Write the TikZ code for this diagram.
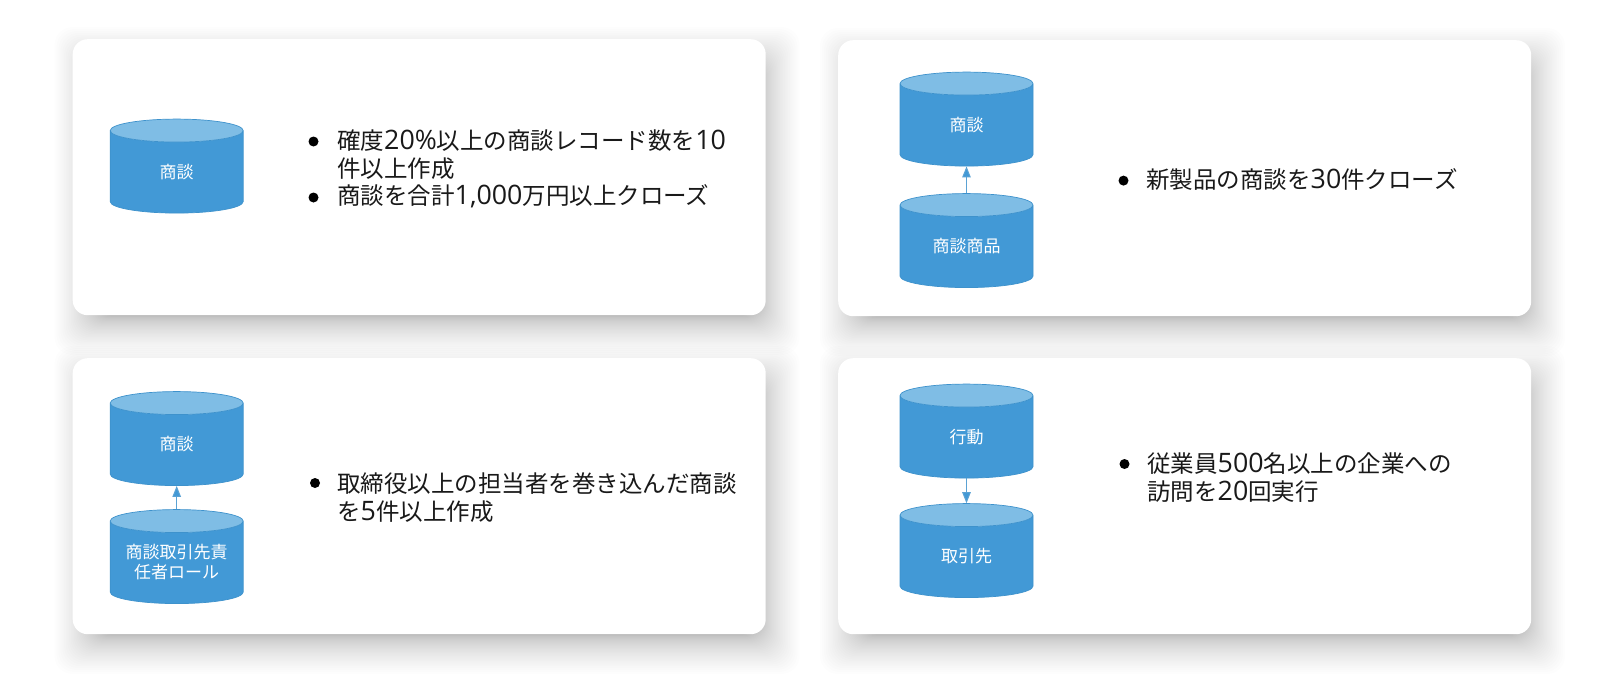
\documentclass[tikz,border=0pt]{standalone}
\usepackage{fontspec}
\setmainfont{Noto Sans CJK JP}
\newfontfamily\ltn[Scale=1.14]{Open Sans}
\usetikzlibrary{shapes.geometric,arrows.meta}
\definecolor{dbbody}{HTML}{4299D6}
\definecolor{dbtop}{HTML}{7FBDE5}
\definecolor{dbline}{HTML}{3E92CC}
\tikzset{
  card/.style={fill=white,rounded corners=15pt,minimum width=693pt,minimum height=276pt,inner sep=0pt,anchor=north west},
  dbcyl/.style={shape=cylinder,shape border rotate=90,aspect=0.209,cylinder uses custom fill,
    cylinder body fill=dbbody,cylinder end fill=dbtop,draw=dbline,line width=0.7pt,
    minimum width=133pt,minimum height=94pt,inner sep=0pt,text=white,align=center,
    text width=110pt,font=\fontsize{17}{20}\selectfont},
  itemtext/.style={anchor=west,align=left,inner sep=0pt,text=black!90,font=\fontsize{23.5}{28.4}\selectfont},
  bulletdot/.style={circle,fill=black,minimum size=10pt,inner sep=0pt},
  link/.style={draw=dbline!85!white,line width=1pt,-{Triangle[width=8.5pt,length=11pt,fill=dbbody]}},
}
\newcommand{\softshadow}[2]{%
  \foreach \i in {0,...,39}{
    \pgfmathsetmacro{\grow}{-14+40*(\i/39)*(\i/39)}
    \fill[black,opacity=0.006,rounded corners=18pt]
      ({#1+8-\grow},{#2+14-\grow}) rectangle ({#1+693+8+\grow},{#2+276+14+\grow});
  }}
\begin{document}
\begin{tikzpicture}[x=1pt,y=-1pt]
\useasboundingbox (0,0) rectangle (1600,677);
\fill[white] (0,0) rectangle (1600,677);
\softshadow{72.5}{39}
\softshadow{838}{40}
\softshadow{72.5}{358}
\softshadow{838}{358}
\node[card] (cardA) at (72.5,39) {};
\node[card] (cardB) at (838,40) {};
\node[card] (cardC) at (72.5,358) {};
\node[card] (cardD) at (838,358) {};

% card A
\node[dbcyl] (a1) at (176.7,172) {商談};
\node[bulletdot] (ab1) at (313.5,141.5) {};
\node[itemtext] (at1) at (337,154.5) {確度{\ltn 20\%}以上の商談レコード数を{\ltn 10}\\件以上作成};
\node[bulletdot] (ab2) at (313.5,197.5) {};
\node[itemtext] (at2) at (337,196.7) {商談を合計{\ltn 1,000}万円以上クローズ};

% card B
\node[dbcyl] (b1) at (966.5,125) {商談};
\node[dbcyl] (b2) at (966.5,246.5) {商談商品};
\draw[link] (b2.north) -- (b1.south);
\node[bulletdot] (bb1) at (1123.5,180.6) {};
\node[itemtext] (bt1) at (1146,179.5) {新製品の商談を{\ltn 30}件クローズ};

% card C
\node[dbcyl] (c1) at (176.7,444.5) {商談};
\node[dbcyl] (c2) at (176.7,562.5) {商談取引先責\\任者ロール};
\draw[link] (c2.north) -- (c1.south);
\node[bulletdot] (cb1) at (315,483) {};
\node[itemtext] (ct1) at (337,497.5) {取締役以上の担当者を巻き込んだ商談\\を{\ltn 5}件以上作成};

% card D
\node[dbcyl] (d1) at (966.5,437) {行動};
\node[dbcyl] (d2) at (966.5,556.5) {取引先};
\draw[link] (d1.south) -- (d2.north);
\node[bulletdot] (db1) at (1124.5,464) {};
\node[itemtext] (dt1) at (1147,477.5) {従業員{\ltn 500}名以上の企業への\\訪問を{\ltn 20}回実行};
\end{tikzpicture}
\end{document}
